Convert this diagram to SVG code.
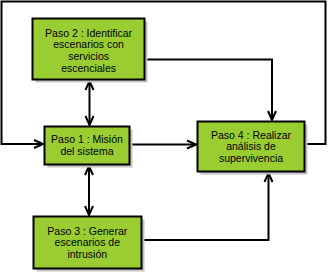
<svg xmlns="http://www.w3.org/2000/svg" width="328" height="274" viewBox="0 0 328 274">
<defs>
<marker id="arr" markerUnits="userSpaceOnUse" markerWidth="12" markerHeight="12" viewBox="0 0 12 12" refX="10" refY="6" orient="auto-start-reverse">
<path d="M1,2 L10,6 L1,10" fill="none" stroke="#000" stroke-width="2"/>
</marker>
<style>
.box{fill:#9acd32;stroke:#000;stroke-width:2}
.sh{fill:#c4c4c4}
.lbl{font-family:"Liberation Sans",Arial,Helvetica,sans-serif;font-size:10.5px;fill:#000;text-anchor:middle}
.ln{fill:none;stroke:#000;stroke-width:2}
</style>
</defs>
<rect width="328" height="274" fill="#fff"/>
<g id="connectors">
<path class="ln" d="M89.5,81 V125" marker-start="url(#arr)" marker-end="url(#arr)"/>
<path class="ln" d="M89,166 V215" marker-start="url(#arr)" marker-end="url(#arr)"/>
<path class="ln" d="M145.5,59.5 H272 V120" marker-end="url(#arr)"/>
<path class="ln" d="M130.5,144.5 H196" marker-end="url(#arr)"/>
<path class="ln" d="M142.5,240 H268.5 V173" marker-end="url(#arr)"/>
<path class="ln" d="M306,144 H325.5 V1.5 H1.5 V144 H43" marker-end="url(#arr)"/>
</g>
<g id="paso2">
<rect class="sh" x="35.5" y="21.5" width="112" height="61"/>
<rect class="box" x="32.5" y="18.5" width="112" height="61"/>
<text class="lbl" x="88.6" y="36.5">Paso 2 : Identificar</text>
<text class="lbl" x="88.6" y="48.2">escenarios con</text>
<text class="lbl" x="88.6" y="59.9">servicios</text>
<text class="lbl" x="88.6" y="71.6">escenciales</text>
</g>
<g id="paso1">
<rect class="sh" x="47.5" y="129.5" width="85" height="38"/>
<rect class="box" x="44.5" y="126.5" width="85" height="38"/>
<text class="lbl" x="87" y="143.3">Paso 1 : Misión</text>
<text class="lbl" x="87" y="155.2">del sistema</text>
</g>
<g id="paso4">
<rect class="sh" x="200.5" y="124.5" width="107" height="50"/>
<rect class="box" x="197.5" y="121.5" width="107" height="50"/>
<text class="lbl" x="251" y="138.8">Paso 4 : Realizar</text>
<text class="lbl" x="251" y="150.4">análisis de</text>
<text class="lbl" x="251" y="162">supervivencia</text>
</g>
<g id="paso3">
<rect class="sh" x="36.5" y="219.5" width="108" height="52"/>
<rect class="box" x="33.5" y="216.5" width="108" height="52"/>
<text class="lbl" x="87.3" y="234.5">Paso 3 : Generar</text>
<text class="lbl" x="87.3" y="246.2">escenarios de</text>
<text class="lbl" x="87.3" y="257.9">intrusión</text>
</g>
</svg>
